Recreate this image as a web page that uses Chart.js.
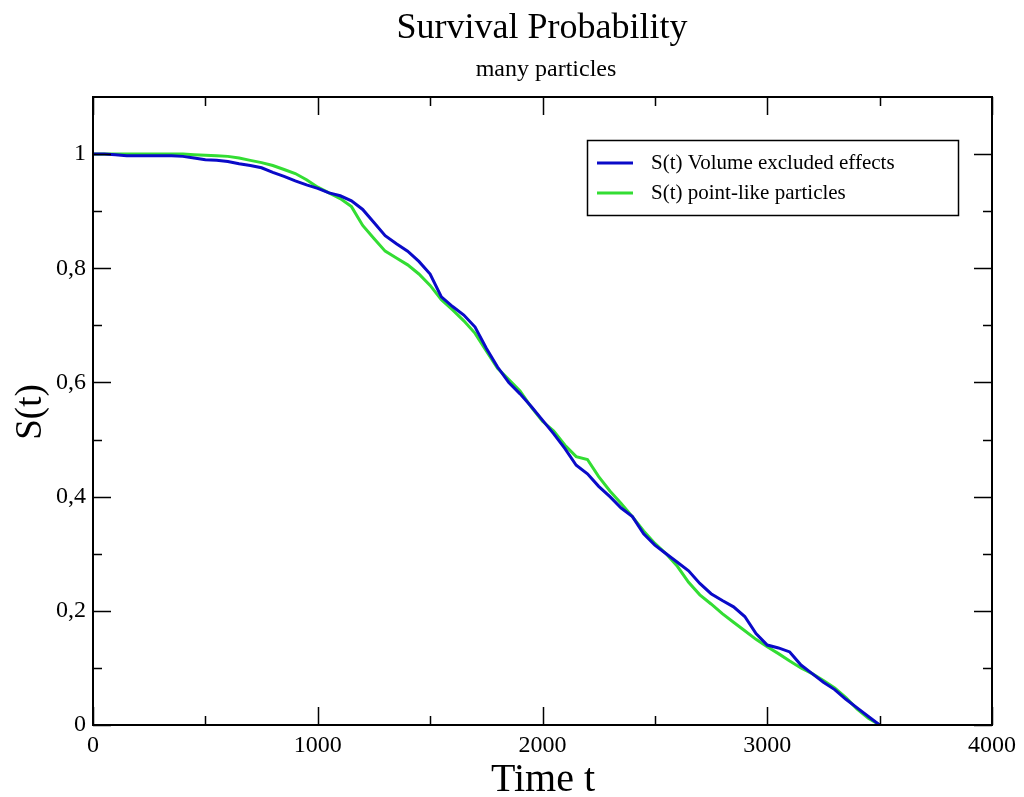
<!DOCTYPE html>
<html>
<head>
<meta charset="utf-8">
<script src="https://cdn.jsdelivr.net/npm/chart.js@4.4.0/dist/chart.umd.min.js"></script>
<style>
  html, body { margin: 0; padding: 0; background: #fff; }
  #wrap { width: 1024px; height: 797px; }
</style>
</head>
<body>
<div id="wrap"><canvas id="survChart" width="1024" height="797"></canvas></div>
<script>
// time grid (shared by both curves)
const times = [0,50,100,150,200,250,300,350,400,450,500,550,600,650,700,750,800,850,900,950,
  1000,1050,1100,1150,1200,1250,1300,1350,1400,1450,1500,1550,1600,1650,1700,1750,1800,1850,1900,1950,
  2000,2050,2100,2150,2200,2250,2300,2350,2400,2450,2500,2550,2600,2650,2700,2750,2800,2850,2900,2950,
  3000,3050,3100,3150,3200,3250,3300,3350,3400,3450,3500];

const volumeExcluded = [1.000,1.000,0.999,0.997,0.997,0.997,0.997,0.997,0.996,0.993,0.990,0.989,0.987,0.983,0.980,0.976,0.968,0.961,0.953,0.946,
  0.940,0.932,0.927,0.918,0.903,0.880,0.857,0.843,0.830,0.812,0.790,0.750,0.733,0.718,0.697,0.660,0.627,0.600,0.580,0.558,
  0.534,0.510,0.484,0.455,0.440,0.418,0.400,0.380,0.365,0.335,0.315,0.300,0.285,0.270,0.248,0.230,0.218,0.207,0.190,0.160,
  0.140,0.135,0.128,0.105,0.090,0.075,0.062,0.045,0.030,0.015,0.000];

const pointLike = [1.000,1.000,1.000,1.000,1.000,1.000,1.000,1.000,1.000,0.999,0.998,0.997,0.996,0.993,0.989,0.985,0.980,0.973,0.966,0.955,
  0.942,0.932,0.922,0.908,0.875,0.852,0.830,0.818,0.806,0.790,0.770,0.745,0.727,0.708,0.686,0.655,0.625,0.605,0.585,0.557,
  0.532,0.515,0.490,0.470,0.465,0.435,0.410,0.388,0.365,0.340,0.318,0.300,0.278,0.250,0.228,0.212,0.195,0.180,0.165,0.150,
  0.137,0.125,0.112,0.100,0.090,0.078,0.065,0.048,0.028,0.012,0.000];

const seriesLabels = ["S(t) Volume excluded effects", "S(t) point-like particles"];
const xMajorTicks = [0,1000,2000,3000,4000];
const xMinorTicks = [500,1500,2500,3500];
const yMajorTicks = [0,0.2,0.4,0.6,0.8,1.0];
const yMinorTicks = [0.1,0.3,0.5,0.7,0.9];

const SERIF = "'Liberation Serif', 'DejaVu Serif', serif";
const BLUE = "#0a0ac8";
const GREEN = "#33dd33";

function toPoints(ys) { return times.map((t, i) => ({ x: t, y: ys[i] })); }

// frame, inward ticks, titles, legend
const decor = {
  id: "decor",
  afterDraw(chart) {
    const ctx = chart.ctx, a = chart.chartArea;
    const xs = chart.scales.x, ys = chart.scales.y;
    ctx.save();
    ctx.strokeStyle = "#000";
    ctx.lineWidth = 2;
    ctx.strokeRect(a.left, a.top, a.right - a.left, a.bottom - a.top);

    ctx.lineWidth = 1.5;
    ctx.beginPath();
    const tick = (vals, len, horiz) => vals.forEach(v => {
      if (horiz) {
        const px = Math.round(xs.getPixelForValue(v)) + 0.5;
        ctx.moveTo(px, a.bottom); ctx.lineTo(px, a.bottom - len);
        ctx.moveTo(px, a.top); ctx.lineTo(px, a.top + len);
      } else {
        const py = Math.round(ys.getPixelForValue(v)) + 0.5;
        ctx.moveTo(a.left, py); ctx.lineTo(a.left + len, py);
        ctx.moveTo(a.right, py); ctx.lineTo(a.right - len, py);
      }
    });
    tick(xMajorTicks, 18, true);
    tick(xMinorTicks, 9, true);
    tick(yMajorTicks, 18, false);
    tick(yMinorTicks, 9, false);
    ctx.stroke();

    ctx.fillStyle = "#000";
    ctx.textAlign = "center";
    ctx.textBaseline = "alphabetic";
    ctx.font = "36px " + SERIF;
    ctx.fillText("Survival Probability", 542, 38);
    ctx.font = "24px " + SERIF;
    ctx.fillText("many particles", 546, 76);
    ctx.font = "40px " + SERIF;
    ctx.fillText("Time t", 543, 791);
    ctx.save();
    ctx.translate(41, 412);
    ctx.rotate(-Math.PI / 2);
    ctx.font = "37px " + SERIF;
    ctx.fillText("S(t)", 0, 0);
    ctx.restore();

    // legend box
    const lx = 587, ly = 140, lw = 371, lh = 75;
    ctx.fillStyle = "#fff";
    ctx.fillRect(lx, ly, lw, lh);
    ctx.strokeStyle = "#000";
    ctx.lineWidth = 1.5;
    ctx.strokeRect(lx + 0.5, ly + 0.5, lw, lh);
    ctx.font = "21px " + SERIF;
    ctx.textAlign = "left";
    ctx.textBaseline = "middle";
    chart.data.datasets.forEach((ds, i) => {
      const y = ly + 23 + i * 30;
      ctx.strokeStyle = ds.borderColor;
      ctx.lineWidth = 3;
      ctx.beginPath();
      ctx.moveTo(lx + 10, y); ctx.lineTo(lx + 46, y);
      ctx.stroke();
      ctx.fillStyle = "#000";
      ctx.fillText(ds.label, lx + 64, y);
    });
    ctx.restore();
  }
};

new Chart(document.getElementById("survChart").getContext("2d"), {
  type: "line",
  data: {
    datasets: [
      { label: seriesLabels[0], data: toPoints(volumeExcluded), borderColor: BLUE, borderWidth: 3, pointRadius: 0, tension: 0, fill: false },
      { label: seriesLabels[1], data: toPoints(pointLike), borderColor: GREEN, borderWidth: 3, pointRadius: 0, tension: 0, fill: false }
    ]
  },
  options: {
    responsive: false,
    animation: false,
    layout: { padding: { left: 0, right: 32, top: 97, bottom: 0 } },
    plugins: { legend: { display: false }, title: { display: false }, tooltip: { enabled: false } },
    scales: {
      x: {
        type: "linear", min: 0, max: 4000,
        afterBuildTicks: s => { s.ticks = xMajorTicks.map(v => ({ value: v })); },
        afterFit: s => { s.height = 72; },
        grid: { display: false, drawTicks: false },
        border: { display: false },
        ticks: { padding: 6, color: "#000", font: { family: SERIF, size: 24 }, maxRotation: 0, callback: v => String(v) }
      },
      y: {
        type: "linear", min: 0, max: 1.1,
        afterBuildTicks: s => { s.ticks = yMajorTicks.map(v => ({ value: v })); },
        afterFit: s => { s.width = 93; },
        grid: { display: false, drawTicks: false },
        border: { display: false },
        ticks: { padding: 7, color: "#000", font: { family: SERIF, size: 24 },
          callback: v => (v === 0 || v === 1) ? String(v) : v.toFixed(1).replace(".", ",") }
      }
    }
  },
  plugins: [decor]
});
</script>
</body>
</html>
